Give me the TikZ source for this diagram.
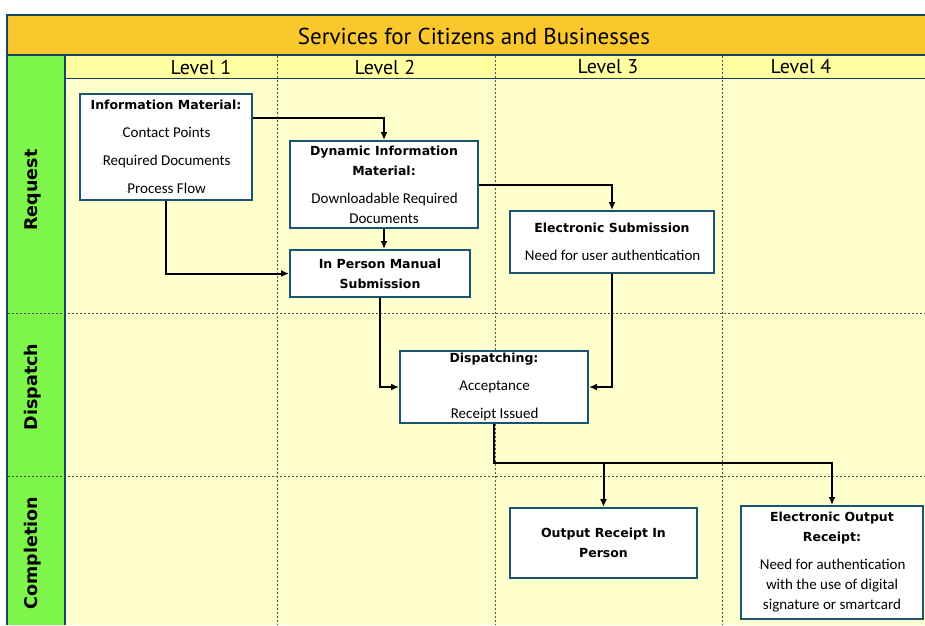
\documentclass[tikz,border=0pt]{standalone}
\usepackage{fontspec}
\setmainfont{DejaVu Sans}
\newfontfamily\bodyfont{Carlito}
\newfontfamily\headfont{PT Sans}
\usetikzlibrary{arrows.meta}
\definecolor{titlebg}{RGB}{250,200,45}
\definecolor{headbg}{RGB}{255,255,160}
\definecolor{bodybg}{RGB}{255,255,206}
\definecolor{greenbg}{RGB}{125,245,75}
\definecolor{boxblue}{RGB}{25,85,115}
\definecolor{frameblue}{RGB}{20,70,100}
\newcommand{\bt}[1]{{\bfseries\fontsize{12.5}{20}\selectfont #1}}
\newcommand{\bd}[1]{{\bodyfont\fontsize{15}{20}\selectfont #1}}
\begin{document}
\begin{tikzpicture}[x=1pt,y=-1pt,
  box/.style={draw=boxblue, line width=2pt, fill=white, align=center, inner sep=0pt},
  conn/.style={line width=2pt, -{Latex[length=8pt,width=7pt]}},
  sep/.style={gray!60!black, line width=0.8pt, dash pattern=on 2pt off 2pt},
  frame/.style={frameblue, line width=1.5pt},
  lvl/.style={font=\headfont\fontsize{20}{22}\selectfont},
  rowlab/.style={rotate=90, font=\bfseries\fontsize{17.5}{20}\selectfont}]
\useasboundingbox (0,0) rectangle (925,625);
\fill[white] (0,0) rectangle (925,625);
\fill[bodybg] (65,78) rectangle (925,625);
\fill[headbg] (65,55) rectangle (925,78);
\fill[greenbg] (7,55) rectangle (65,625);
\fill[titlebg] (7,15) rectangle (925,55);
% separators
\foreach \x in {277,495,722} \draw[sep] (\x,56) -- (\x,625);
\foreach \y in {313,476} \draw[sep] (8,\y) -- (925,\y);
% frame lines
\draw[frame] (925,15) -- (7,15) -- (7,625);
\draw[frame] (7,55) -- (925,55);
\draw[frame] (65,55) -- (65,625);
\draw[frame, line width=1pt] (65,78) -- (925,78);
% titles
\node[font=\headfont\fontsize{23}{26}\selectfont] (title) at (474,36) {Services for Citizens and Businesses};
\node[lvl] (l1) at (201,67) {Level 1};
\node[lvl] (l2) at (385,67) {Level 2};
\node[lvl] (l3) at (608,67) {Level 3};
\node[lvl] (l4) at (801,67) {Level 4};
\node[rowlab] (r1) at (33,190) {Request};
\node[rowlab] (r2) at (33,387) {Dispatch};
\node[rowlab] (r3) at (33,553) {Completion};
% helper coordinates
\coordinate (c118) at (0,118);
\coordinate (split) at (494,463);
% boxes
\node[box, minimum width=172pt, minimum height=106pt, font=\fontsize{12}{28}\selectfont] (im) at (166,147)
  {\bt{Information Material:}\\
   \bd{{\tiny·}Contact Points}\\
   \bd{{\tiny·}Required Documents}\\
   \bd{{\tiny·}Process Flow}};
\node[box, minimum width=188pt, minimum height=87pt, font=\fontsize{12}{20}\selectfont] (dim) at (384,184.5)
  {\bt{Dynamic Information}\\
   \bt{Material:}\\[8pt]
   \bd{{\tiny·}Downloadable Required}\\
   \bd{Documents}};
\node[box, minimum width=180pt, minimum height=47pt, font=\fontsize{12}{20}\selectfont] (ipm) at (380,273.5)
  {\bt{In Person Manual}\\\bt{Submission}};
\node[box, minimum width=204pt, minimum height=62pt, font=\fontsize{12}{28}\selectfont] (es) at (612,242)
  {\bt{Electronic Submission}\\
   \bd{{\tiny·}Need for user authentication}};
\node[box, minimum width=188pt, minimum height=72pt, font=\fontsize{12}{28}\selectfont] (disp) at (494,387)
  {\bt{Dispatching:}\\
   \bd{{\tiny·}Acceptance}\\
   \bd{{\tiny·}Receipt Issued}};
\node[box, minimum width=187pt, minimum height=70pt, font=\fontsize{12}{20}\selectfont] (orp) at (603.5,543)
  {\bt{Output Receipt In}\\\bt{Person}};
\node[box, minimum width=182pt, minimum height=113pt, font=\fontsize{12}{20}\selectfont] (eor) at (832,562.5)
  {\bt{Electronic Output}\\
   \bt{Receipt:}\\[8pt]
   \bd{{\tiny·}Need for authentication}\\
   \bd{with the use of digital}\\
   \bd{signature or smartcard}};
% connectors
\draw[conn] (im.east |- c118) -| (dim.north);
\draw[conn] (im.south) |- (ipm.west);
\draw[conn] (dim.south) -- (dim.south |- ipm.north);
\draw[conn] (dim.east) -| (es.north);
\draw[conn] (ipm.south) |- (disp.west);
\draw[conn] (es.south) |- (disp.east);
\draw[conn] (disp.south) |- (eor.north |- split) -- (eor.north);
\draw[conn] (orp.north |- split) -- (orp.north);
\end{tikzpicture}
\end{document}
